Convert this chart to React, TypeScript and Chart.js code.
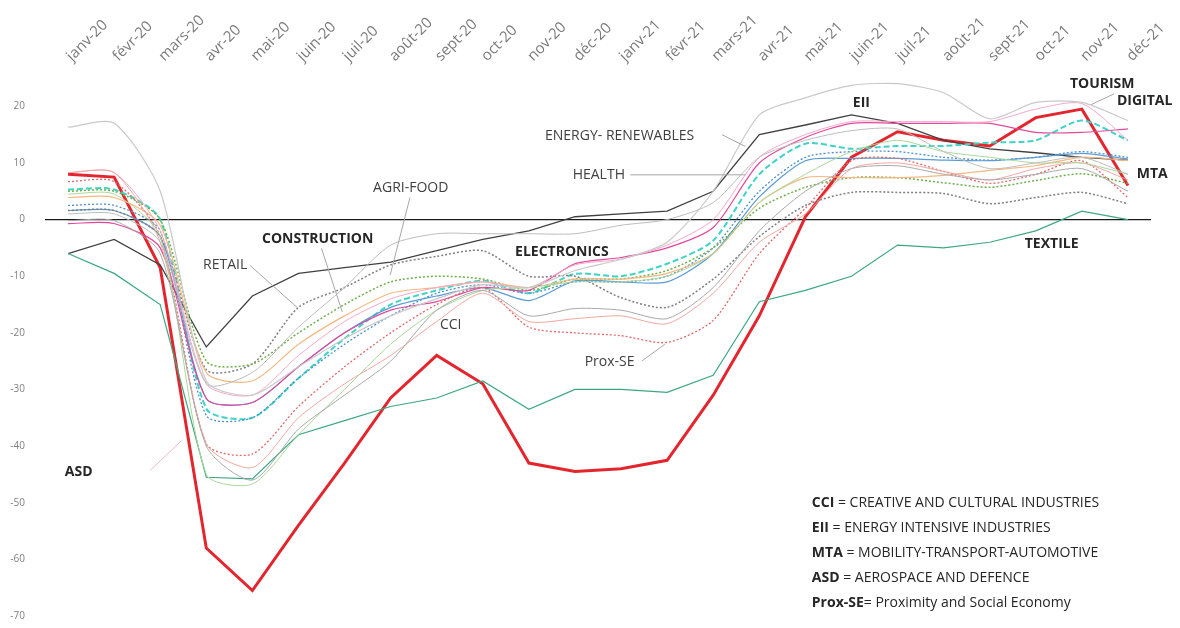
import React, { useEffect, useRef } from 'react';
import { Chart, registerables } from 'chart.js';
Chart.register(...registerables);

const months = ['janv-20','févr-20','mars-20','avr-20','mai-20','juin-20','juil-20','août-20','sept-20','oct-20','nov-20','déc-20','janv-21','févr-21','mars-21','avr-21','mai-21','juin-21','juil-21','août-21','sept-21','oct-21','nov-21','déc-21'];

const mta = [8, 7.5, -8.5, -58, -65.5, -54, -43, -31.5, -24, -29, -43, -44.5, -44, -42.5, -31, -17, 0.5, 11, 15.5, 14, 13, 18, 19.5, 6];
const eii = [-6, -3.5, -8, -22.5, -13.5, -9.5, -8.5, -7.5, -5.5, -3.5, -2, 0.5, 1, 1.5, 5, 15, 16.7, 18.5, 17, 14, 12.5, 11.8, 11, 10.5];
const textile = [-6, -9.5, -15, -45.5, -45.8, -38, -35.5, -33, -31.5, -28.5, -33.5, -30, -30, -30.5, -27.5, -14.5, -12.5, -10, -4.5, -5, -4, -2, 1.5, 0];
const digital = [16.3, 17, 5, -28.5, -31, -26, -21, -17, -14, -11.5, -12, -9, -7, -4, 5, 18.5, 21.5, 23.7, 24, 22.4, 17.8, 20.7, 20.7, 17.5];
const retail = [1.6, 1.6, -3, -26.5, -25.5, -15.5, -12, -8, -6.5, -5.5, -10, -10, -13.8, -15.5, -10.5, -3, 2.5, 4.8, 4.8, 4.6, 2.8, 3.9, 4.8, 2.8];
const construction = [5, 5, 0, -25, -25.5, -20, -15, -11, -10, -10.5, -12.5, -10.5, -10.5, -9, -5, 2, 5.7, 7.4, 7.4, 6.5, 5.7, 6.9, 8.1, 6.4];
const energy = [3.9, 3.9, -1, -27, -28.5, -22, -17, -13, -12, -11, -12, -10.5, -10.5, -9.5, -6, 3, 7.4, 7.4, 7.4, 7.8, 8.7, 9.5, 11, 10.4];
const proxSe = [6.7, 6.7, -3, -39.6, -41.4, -33, -26, -20, -15, -12, -19, -20, -20.5, -21.7, -17.8, -6, 2, 10.4, 10.8, 8.5, 6.4, 8, 10.4, 3.9];
const electronics = [8.3, 8.3, -4, -39.6, -43.8, -35, -29, -24, -18, -13, -18, -17.5, -17, -18.4, -13, -4, 1, 9, 10, 8.5, 7, 9, 10, 7];
const health = [-0.7, -0.7, -5, -31.6, -32.3, -26, -20, -16, -14.5, -12, -12.5, -7.8, -6.7, -5, -1.4, 10, 14.5, 17, 17, 17, 17, 15.4, 15.4, 16];
const renewables = [5.3, 5.3, 0, -33.4, -35, -28, -21, -15, -12.5, -10.8, -13, -9.6, -10, -7.8, -3.7, 8, 13.4, 12.5, 13, 13, 13.6, 14, 17.5, 14];
const blueSeries = [1.6, 1.6, -3, -31.6, -32.3, -26, -20, -15.5, -13.5, -12, -14.3, -10.8, -11, -11, -6, 4, 10.4, 10.8, 10.8, 10.5, 10.4, 11, 11.7, 10.7];
const dottedBlue = [2.5, 2.5, -2, -34.6, -35, -28, -22, -17, -13, -11.5, -13, -11, -11, -10, -5, 5, 11, 12, 12, 11, 10.5, 11, 12, 11];
const tourism = [8.3, 8.3, -2, -29, -31, -24, -18, -14, -12, -11, -12, -8, -7, -4.5, 0, 11, 15, 17.3, 17.3, 17.3, 17.3, 19.5, 20.5, 14];
const cci = [-0.2, -0.2, -6, -40, -46, -37, -31, -25, -16, -12.5, -17, -15.7, -16, -17.5, -12, -2, 5, 9, 9.5, 8, 7, 8, 9, 5];
const asd = [4.5, 4.5, -3, -45, -46.7, -38, -30, -22, -16, -12.5, -12, -11, -11, -10, -6, 3, 8, 12, 14, 12, 11, 10, 10, 8];
const agriFood = [1, 1, -4, -29, -27, -19, -12, -4.5, -2.5, -2.5, -2.5, -2.5, -1, 0, 3, 11, 14, 15.7, 16, 12, 9, 10, 11, 8];

const yTicksMin = -70;
const yTicksMax = 25;

// annotation labels in data coordinates (category index, value)
const labelTexts = ['CONSTRUCTION','RETAIL','AGRI-FOOD','ENERGY- RENEWABLES','HEALTH','EII','TOURISM','DIGITAL','MTA','ELECTRONICS','CCI','Prox-SE','TEXTILE','ASD'];
const labelIdx = [4.21, 2.93, 6.62, 10.35, 10.95, 17.03, 21.74, 22.76, 23.19, 9.7, 8.07, 11.21, 20.76, -0.07];
const labelVal = [-3.36, -8.1, 5.65, 14.8, 7.8, 20.5, 23.85, 20.85, 8.1, -5.65, -18.7, -25.1, -4.24, -44.5];
const labelBold = [true, false, false, false, false, true, true, true, true, true, false, false, true, true];

// leader lines [i1, v1, i2, v2]
const leaderLines = [
  [3.95, -8.1, 4.97, -15.5],
  [5.5, -5.1, 5.95, -16.3],
  [7.42, 3.9, 6.99, -9.8],
  [14.19, 15.0, 14.7, 12.9],
  [12.2, 7.9, 14.7, 7.9],
  [22.2, 20.3, 22.7, 22.2],
  [12.45, -25.0, 12.95, -22.0],
];
const asdLeader = [1.78, -44.3, 2.47, -39.0];

const glossAbbr = ['CCI', 'EII', 'MTA', 'ASD', 'Prox-SE'];
const glossRest = [' = CREATIVE AND CULTURAL INDUSTRIES', ' = ENERGY INTENSIVE INDUSTRIES', ' = MOBILITY-TRANSPORT-AUTOMOTIVE', ' = AEROSPACE AND DEFENCE', '= Proximity and Social Economy'];

const FONT = '"Open Sans", "DejaVu Sans", sans-serif';

function ds(label: string, data: number[], color: string, width: number, dash: number[] = [], tension = 0.25) {
  return {
    label, data, borderColor: color, backgroundColor: color, borderWidth: width,
    borderDash: dash, pointRadius: 0, tension, fill: false,
  };
}

const annotationPlugin = {
  id: 'annot',
  afterDatasetsDraw(chart: any) {
    const { ctx, scales } = chart;
    const x = scales.x, y = scales.y;
    const px = (i: number) => x.getPixelForValue(i);
    const py = (v: number) => y.getPixelForValue(v);
    ctx.save();
    ctx.lineWidth = 1;
    ctx.strokeStyle = '#a6a6a6';
    leaderLines.forEach((l) => {
      ctx.beginPath();
      ctx.moveTo(px(l[0]), py(l[1]));
      ctx.lineTo(px(l[2]), py(l[3]));
      ctx.stroke();
    });
    ctx.strokeStyle = '#f2b8c6';
    ctx.beginPath();
    ctx.moveTo(px(asdLeader[0]), py(asdLeader[1]));
    ctx.lineTo(px(asdLeader[2]), py(asdLeader[3]));
    ctx.stroke();

    ctx.textBaseline = 'middle';
    ctx.textAlign = 'left';
    labelTexts.forEach((t, k) => {
      ctx.font = `${labelBold[k] ? 'bold ' : ''}14px ${FONT}`;
      ctx.fillStyle = labelBold[k] ? '#262626' : '#404040';
      ctx.fillText(t, px(labelIdx[k]), py(labelVal[k]));
    });

    const gx = px(16.14);
    const gy = py(-50);
    glossAbbr.forEach((a, r) => {
      const yy = gy + r * 25;
      ctx.font = `bold 14px ${FONT}`;
      ctx.fillStyle = '#262626';
      ctx.fillText(a, gx, yy);
      const w = ctx.measureText(a).width;
      ctx.font = `14px ${FONT}`;
      ctx.fillStyle = '#262626';
      ctx.fillText(glossRest[r], gx + w, yy);
    });
    ctx.restore();
  },
};

export default function App() {
  const ref = useRef<HTMLCanvasElement | null>(null);
  useEffect(() => {
    if (!ref.current) return;
    const chart = new Chart(ref.current, {
      type: 'line',
      data: {
        labels: months,
        datasets: [
          ds('DIGITAL', digital, '#c9c9c9', 1.2),
          ds('AGRI-FOOD', agriFood, '#bdbdbd', 1),
          ds('CCI', cci, '#a9a9a9', 1),
          ds('ASD', asd, '#a9d89a', 1),
          ds('ELECTRONICS', electronics, '#f2a7a0', 1),
          ds('Prox-SE', proxSe, '#e06a6a', 1.3, [2, 2]),
          ds('TOURISM', tourism, '#f7a8c8', 1),
          ds('HEALTH', health, '#e2489c', 1.2),
          ds('ENERGY', energy, '#f6b780', 1.2),
          ds('CONSTRUCTION', construction, '#6db14d', 1.5, [2, 2]),
          ds('RETAIL', retail, '#7f7f7f', 1.5, [2, 2]),
          ds('BLUE', blueSeries, '#5b9bd5', 1.2),
          ds('DOTBLUE', dottedBlue, '#4d8fc9', 1.3, [2, 2]),
          ds('RENEWABLES', renewables, '#3fd3c6', 2, [6, 3]),
          ds('TEXTILE', textile, '#3ca883', 1.2, [], 0),
          ds('EII', eii, '#404040', 1.3, [], 0),
          ds('MTA', mta, '#e3262d', 3, [], 0),
        ],
      },
      options: {
        responsive: true,
        maintainAspectRatio: false,
        animation: false,
        layout: { autoPadding: false, padding: { left: 0, right: 29, top: 0, bottom: 12 } },
        plugins: { legend: { display: false }, tooltip: { enabled: false } },
        scales: {
          x: {
            type: 'category',
            position: 'top',
            offset: true,
            grid: { display: false },
            border: { display: false },
            ticks: {
              autoSkip: false, minRotation: 45, maxRotation: 45, padding: 5, labelOffset: 14,
              color: '#7a7a7a', font: { family: FONT, size: 15 },
            },
            afterFit: (s: any) => { s.height = 78; },
          },
          y: {
            min: yTicksMin,
            max: yTicksMax,
            border: { display: false },
            grid: {
              drawTicks: false,
              color: (c: any) => (c.tick && c.tick.value === 0 ? '#1a1a1a' : 'rgba(0,0,0,0)'),
              lineWidth: 1.2,
            },
            ticks: {
              stepSize: 10, padding: 20, color: '#7f7f7f', font: { family: FONT, size: 10 },
              callback: (v: any) => (v === yTicksMax ? '' : String(v)),
            },
            afterFit: (s: any) => { s.width = 45; },
          },
        },
      },
      plugins: [annotationPlugin],
    } as any);
    return () => chart.destroy();
  }, []);
  return (
    <div style={{ position: 'fixed', left: 0, top: 0, width: 1180, height: 642, background: '#ffffff' }}>
      <canvas ref={ref} />
    </div>
  );
}
